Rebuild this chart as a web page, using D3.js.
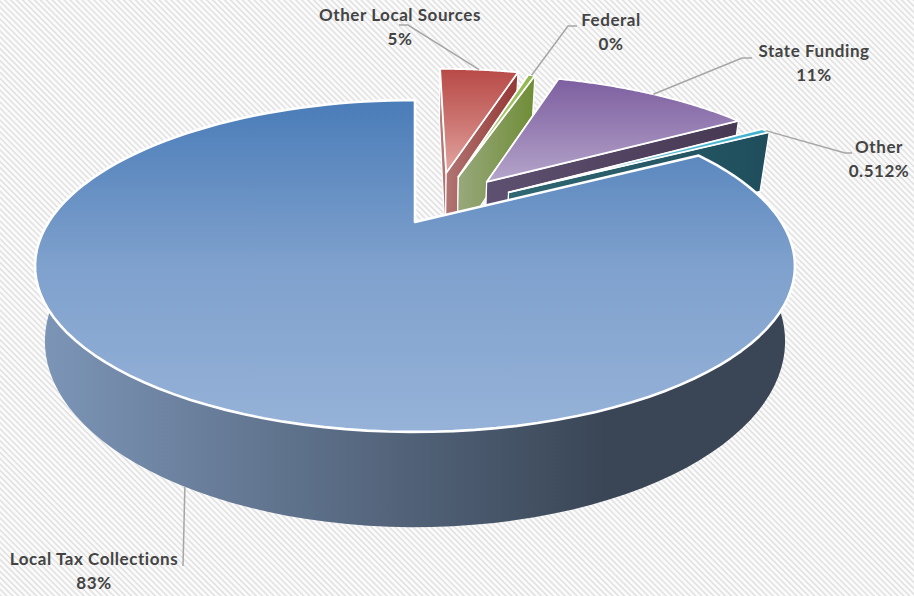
<!DOCTYPE html>
<html>
<head>
<meta charset="utf-8">
<style>
  html, body { margin: 0; padding: 0; background: #fff; }
  svg { display: block; }
  text { font-family: Lato, "Open Sans", sans-serif; font-weight: 700; font-size: 17px; letter-spacing: 0.55px; fill: #444; text-anchor: middle; }
</style>
<script src="https://cdn.jsdelivr.net/npm/d3@7/dist/d3.min.js"></script>
</head>
<body>
<script>
// Revenue shares, in drawing order clockwise from twelve o'clock.
const categories = ["Other Local Sources", "Federal", "State Funding", "Other", "Local Tax Collections"];
const shares = [4.6, 0.4, 11.4, 0.512, 83];
const shareLabels = ["5%", "0%", "11%", "0.512%", "83%"];

// How far each wedge is pulled out, and the bearing it travels along (degrees).
const explodeBy = [0.359, 0.342, 0.349, 0.337, 0];
const explodeBearing = [15, 22, 37, 53, 0];

// Face colours: top surface stops from far to near, wall stops from left to right.
const topColors = [
  ["#b84a47", "#cb7470", "#e3a6a2"],
  ["#8fb64a", "#aac872", "#c4d79b"],
  ["#7d5fa0", "#9880b4", "#b5a5ca"],
  ["#3fb2cd", "#57bcd3", "#6fc5d8"],
  ["#4a7cb8", "#7fa1cd", "#96b2d8"]
];
const wallColors = [["#b37b78", "#953735"], ["#98a87c", "#6f8d36"], ["#5e5070", "#473853"], ["#2f6872", "#1f4d5c"], ["#7d96b8", "#3a4656"]];

// Label placement and the elbow of each leader line.
const labelAt = [[400, 21], [611, 26], [814, 57], [879, 153], [94, 565]];
const elbows = [[[408, 25], [399, 25]], [[568, 26], [577, 26]], [[742, 58], [752, 58]], [[845, 153], [852, 153]], [[183, 566], [183, 566]]];
const leaderNudge = [0, 0, 0, 0, -0.7];

const width = 914, height = 596;

// Projection of the disc: u to the right, v towards the viewer, z down through the thickness.
const view = { x0: 415, y0: 222, ax: 366.4, ay: 154.3, az: 70, pv: -0.265, xz: -0.026 };
function project(u, v, z) {
  const w = 1 + view.pv * v;
  return [view.x0 + view.ax * (1 + view.xz * z) * u / w, view.y0 + (view.ay * v + view.az * z) / w];
}

const svg = d3.select("body").append("svg").attr("width", width).attr("height", height);
const defs = svg.append("defs");

// Fine diagonal hatching behind the chart.
const hatch = defs.append("pattern").attr("id", "hatch").attr("patternUnits", "userSpaceOnUse")
  .attr("width", 4.2).attr("height", 4.2).attr("patternTransform", "rotate(45)");
hatch.append("rect").attr("width", 4.2).attr("height", 4.2).attr("fill", "#fbfbfb");
hatch.append("rect").attr("width", 4.2).attr("height", 1.6).attr("fill", "#e2e2e2");
svg.append("rect").attr("width", width).attr("height", height).attr("fill", "url(#hatch)");

const wedges = d3.pie().sort(null).startAngle(0).endAngle(2 * Math.PI)(shares);
const line = d3.line();
const rad = deg => deg * Math.PI / 180;
const centreOf = i => [explodeBy[i] * Math.sin(rad(explodeBearing[i])), -explodeBy[i] * Math.cos(rad(explodeBearing[i]))];

wedges.forEach((d, i) => {
  const [cu, cv] = centreOf(i);
  const angles = d3.range(0, 121).map(k => d.startAngle + (d.endAngle - d.startAngle) * k / 120);
  const rimAt = (a, z) => project(cu + Math.sin(a), cv - Math.cos(a), z);
  const apexAt = z => project(cu, cv, z);
  const rim = z => angles.map(a => rimAt(a, z));

  const topId = "top" + i, wallId = "wall" + i;
  const topPts = [apexAt(0), ...rim(0)];
  const xs = [...rim(0), ...rim(1), apexAt(0)].map(p => p[0]);
  const ys = topPts.map(p => p[1]);

  const gTop = defs.append("linearGradient").attr("id", topId).attr("gradientUnits", "userSpaceOnUse")
    .attr("x1", 0).attr("x2", 0).attr("y1", d3.min(ys)).attr("y2", d3.max(ys));
  topColors[i].forEach((c, k) => gTop.append("stop").attr("offset", k / 2).attr("stop-color", c));

  const gWall = defs.append("linearGradient").attr("id", wallId).attr("gradientUnits", "userSpaceOnUse")
    .attr("y1", 0).attr("y2", 0).attr("x1", d3.min(xs)).attr("x2", d3.max(xs));
  gWall.append("stop").attr("offset", 0).attr("stop-color", wallColors[i][0]);
  gWall.append("stop").attr("offset", i === 4 ? 0.75 : 1).attr("stop-color", wallColors[i][1]);
  gWall.append("stop").attr("offset", 1).attr("stop-color", wallColors[i][1]);

  const g = svg.append("g").attr("class", "wedge");
  const edge = i === 4 ? "none" : "#fff";

  // Curved outer wall.
  g.append("path").attr("d", line([...rim(0), ...rim(1).reverse()]) + "Z")
    .attr("fill", `url(#${wallId})`).attr("stroke", edge).attr("stroke-width", 1.2).attr("stroke-linejoin", "round");
  // Flat faces running back to the apex.
  [d.startAngle, d.endAngle].forEach(a => {
    g.append("path").attr("d", line([apexAt(0), rimAt(a, 0), rimAt(a, 1), apexAt(1)]) + "Z")
      .attr("fill", `url(#${wallId})`).attr("stroke", edge).attr("stroke-width", 1.2).attr("stroke-linejoin", "round");
  });
  // Top surface.
  g.append("path").attr("d", line(topPts) + "Z")
    .attr("fill", `url(#${topId})`).attr("stroke", "#fff").attr("stroke-width", i === 4 ? 2.6 : 1.8).attr("stroke-linejoin", "round");
});

// Leader lines start on the wedge's rim near its middle angle; the big wedge's leader leaves its lower rim.
wedges.forEach((d, i) => {
  const [cu, cv] = centreOf(i);
  const mid = (d.startAngle + d.endAngle) / 2 + rad(leaderNudge[i]);
  const start = project(cu + Math.sin(mid), cv - Math.cos(mid), i === 4 ? 1 : 0);
  svg.append("path").attr("d", line([start, ...elbows[i]]))
    .attr("fill", "none").attr("stroke", "#a6a6a6").attr("stroke-width", 1.5);
});

categories.forEach((name, i) => {
  const [x, y] = labelAt[i];
  const t = svg.append("text").attr("x", x).attr("y", y);
  t.append("tspan").attr("x", x).attr("dy", 0).text(name);
  t.append("tspan").attr("x", x).attr("dy", 24).text(shareLabels[i]);
});
</script>
</body>
</html>
